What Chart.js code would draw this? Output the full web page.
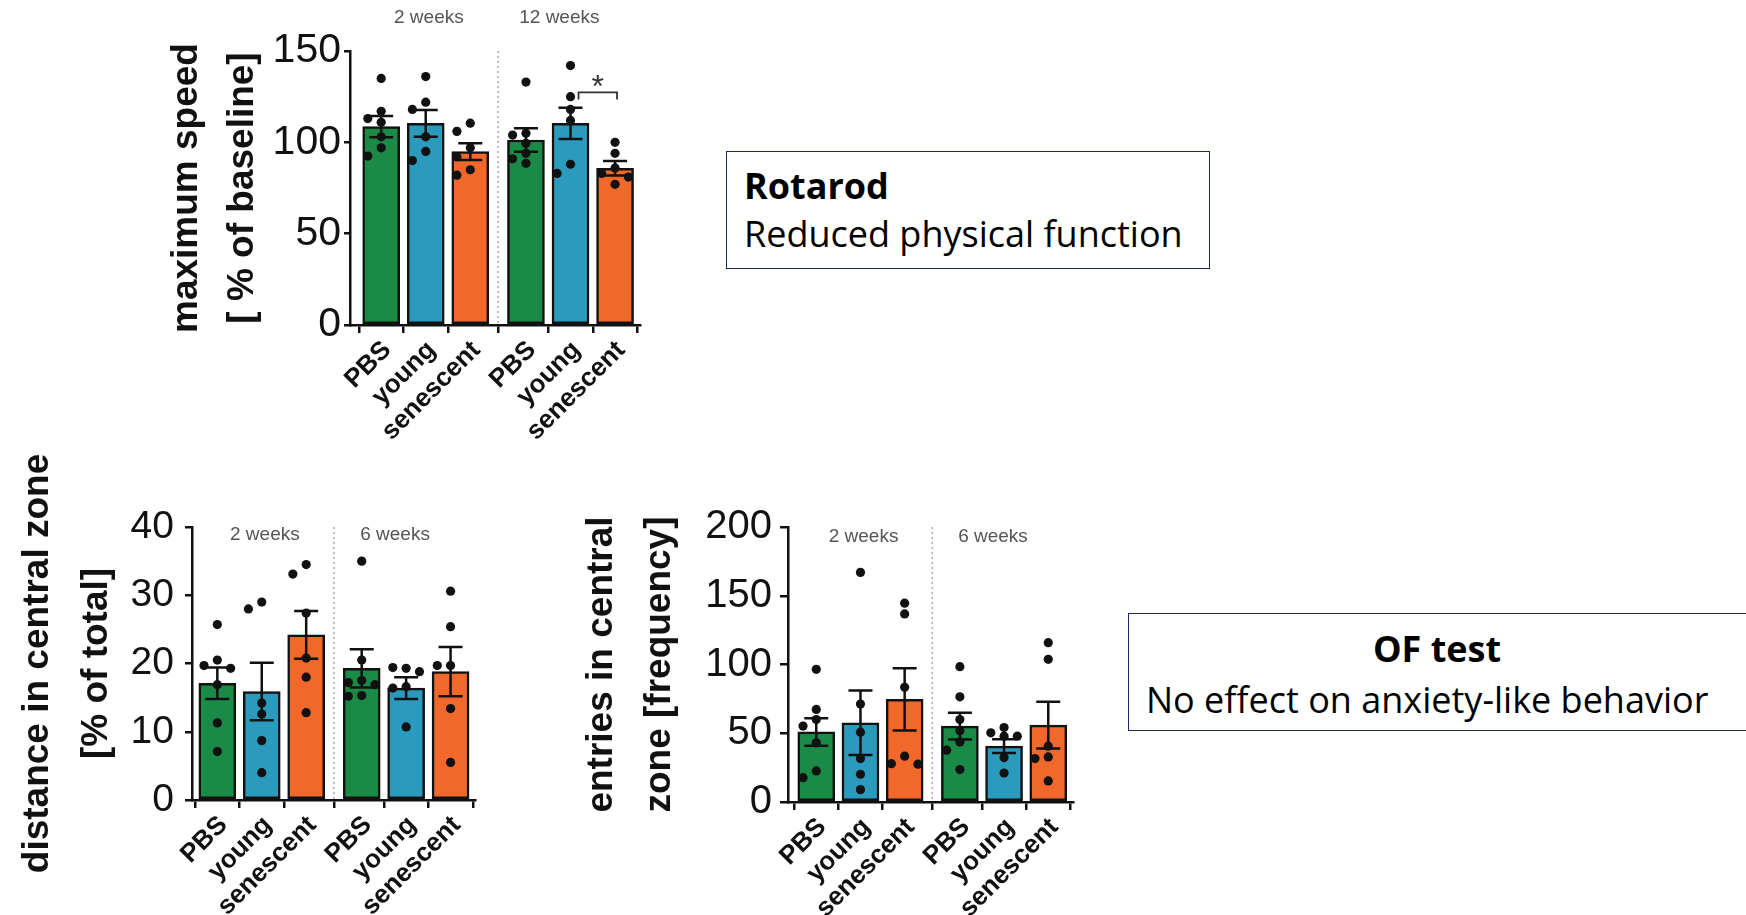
<!DOCTYPE html>
<html>
<head>
<meta charset="utf-8">
<script src="https://cdn.jsdelivr.net/npm/chart.js@4.4.0/dist/chart.umd.min.js"></script>
<style>
    body { margin: 0; width: 1746px; height: 915px; background: #fff; position: relative; overflow: hidden; }
    .panel { position: absolute; }
    .box { position: absolute; box-sizing: border-box; border: 1.5px solid #1b2a5a; font-family: 'Open Sans', sans-serif; color: #000; }
    .line { position: absolute; font-size: 36px; line-height: 36px; white-space: nowrap; }
    .bold { font-weight: bold; }
</style>
</head>
<body>

<div class="panel" style="left:140px;top:0px"><canvas id="chart_speed" width="520" height="450"></canvas></div>
<div class="panel" style="left:0px;top:430px"><canvas id="chart_distance" width="500" height="485"></canvas></div>
<div class="panel" style="left:560px;top:430px"><canvas id="chart_entries" width="530" height="485"></canvas></div>

<div class="box" style="left:726px;top:151px;width:484px;height:118px">
    <div class="line bold" style="left:17px;top:16px">Rotarod</div>
    <div class="line" style="left:17px;top:64px">Reduced physical function</div>
</div>
<div class="box" style="left:1128px;top:613px;width:622px;height:118px">
    <div class="line bold" style="left:0;top:17px;width:616px;text-align:center">OF test</div>
    <div class="line" style="left:17px;top:68px">No effect on anxiety-like behavior</div>
</div>

<script>
/***** data *****/
var groupLabels = ['PBS', 'young', 'senescent', 'PBS', 'young', 'senescent'];

// Rotarod - maximum speed [% of baseline]
var speedWeeks = ['2 weeks', '12 weeks'];
var speedMean = [108.6, 110.4, 94.9, 101.3, 110.4, 85.8];
var speedSem = [5.8, 7.3, 4.6, 6.4, 8.6, 4.0];
var speedPoints = [
    [135, 117, 113, 111, 103, 97, 92.5],
    [136, 122, 118, 103, 95, 90],
    [110.5, 106, 97, 92, 85, 82],
    [133, 105, 104, 99.5, 94, 91, 88.5],
    [142, 125, 118, 112, 88, 83],
    [100, 94, 86, 83, 81, 77]
];
var speedTicks = [0, 50, 100, 150];

// OF test - distance in central zone [% of total]
var distWeeks = ['2 weeks', '6 weeks'];
var distMean = [17.1, 15.9, 24.2, 19.3, 16.4, 18.8];
var distSem = [2.3, 4.2, 3.5, 2.8, 1.6, 3.6];
var distPoints = [
    [25.7, 20.5, 19.7, 19.3, 16.9, 11.3, 7.1],
    [29, 28, 14.2, 12.6, 8.7, 4],
    [34.5, 33.1, 27.4, 20.8, 18, 12.8],
    [35, 20.5, 17.5, 17.2, 16.9, 15.3, 15.2],
    [19.3, 19.4, 18.8, 16.6, 16.4, 10.7],
    [30.6, 25.4, 19.7, 19.7, 13.4, 5.5]
];
var distTicks = [0, 10, 20, 30, 40];

// OF test - entries in central zone [frequency]
var entryWeeks = ['2 weeks', '6 weeks'];
var entryMean = [51, 57.6, 74.6, 55.2, 40.6, 55.9];
var entrySem = [10, 23.5, 22.6, 9.7, 5, 17];
var entryPoints = [
    [96.5, 67.3, 60, 55.2, 43, 22.6, 17.7],
    [167, 71.2, 50.8, 31.6, 20.2, 9],
    [144.6, 136.8, 83.4, 33.3, 27.9, 27.5],
    [98.4, 76.5, 60, 51.8, 43.7, 37.7, 23.6],
    [54.2, 50.3, 47.9, 47.9, 32.3, 21.1],
    [115.9, 103.8, 40.6, 32.8, 31.6, 15.3]
];
var entryTicks = [0, 50, 100, 150, 200];

/***** styling *****/
var barColors = ['#1b8a46', '#2b9bbd', '#f2682a', '#1b8a46', '#2b9bbd', '#f2682a'];
var groupGap = 0.25;
var xPos = groupLabels.map(function (l, i) { return i + (i > 2 ? groupGap : 0); });
var weekShift = [0.07, -0.25];   // week captions sit a bit off the group centre
var ink = '#111';
var fontFamily = "'Liberation Sans', Arial, sans-serif";

// spread points with similar values side by side
function swarm(values, thresh) {
    var offs = [0, -0.3, 0.3, -0.15, 0.15, -0.45, 0.45];
    var placed = [];
    return values.map(function (v) {
        for (var k = 0; k < offs.length; k++) {
            var clash = placed.some(function (p) {
                return Math.abs(p.o - offs[k]) < 0.2 && Math.abs(p.v - v) < thresh;
            });
            if (!clash) {
                placed.push({ v: v, o: offs[k] });
                return offs[k];
            }
        }
        return 0;
    });
}

var errorBars = {
    id: 'errorBars',
    afterDatasetDraw: function (chart, args) {
        var ds = chart.data.datasets[args.index];
        if (!ds.sem) return;
        var ctx = chart.ctx, y = chart.scales.y;
        ctx.save();
        ctx.strokeStyle = ink;
        ctx.lineWidth = 2.5;
        args.meta.data.forEach(function (bar, i) {
            var m = ds.data[i].y, s = ds.sem[i];
            var top = y.getPixelForValue(m + s), bot = y.getPixelForValue(m - s);
            ctx.beginPath();
            ctx.moveTo(bar.x, top); ctx.lineTo(bar.x, bot);
            ctx.moveTo(bar.x - 12, top); ctx.lineTo(bar.x + 12, top);
            ctx.moveTo(bar.x - 12, bot); ctx.lineTo(bar.x + 12, bot);
            ctx.stroke();
        });
        ctx.restore();
    }
};

var decor = {
    id: 'decor',
    beforeDatasetsDraw: function (chart, args, opts) {
        var ctx = chart.ctx, x = chart.scales.x, area = chart.chartArea;
        var dx = x.getPixelForValue((xPos[2] + xPos[3]) / 2);
        ctx.save();
        ctx.strokeStyle = '#aaa';
        ctx.lineWidth = 1.5;
        ctx.setLineDash([2, 3]);
        ctx.beginPath();
        ctx.moveTo(dx, area.top);
        ctx.lineTo(dx, area.bottom);
        ctx.stroke();
        ctx.restore();
    },
    afterDraw: function (chart, args, opts) {
        var ctx = chart.ctx, x = chart.scales.x, y = chart.scales.y, area = chart.chartArea;
        ctx.save();
        // axis title, two lines rotated
        ctx.fillStyle = ink;
        ctx.font = 'bold 37px ' + fontFamily;
        ctx.textAlign = 'center';
        ctx.textBaseline = 'middle';
        opts.title.forEach(function (t, i) {
            ctx.save();
            ctx.translate(opts.titleX[i], (area.top + area.bottom) / 2);
            ctx.rotate(-Math.PI / 2);
            ctx.fillText(t, 0, 0);
            ctx.restore();
        });
        // group labels
        ctx.fillStyle = '#555';
        ctx.font = '19px ' + fontFamily;
        opts.groups.forEach(function (g, i) {
            var cx = x.getPixelForValue((xPos[i * 3] + xPos[i * 3 + 2]) / 2 + weekShift[i]);
            ctx.fillText(g, cx, area.top + opts.groupDy);
        });
        // significance bracket
        if (opts.star) {
            var s = opts.star;
            var x1 = x.getPixelForValue(xPos[s.from]) + 8, x2 = x.getPixelForValue(xPos[s.to]) + 2;
            var yb = y.getPixelForValue(s.y), yt = y.getPixelForValue(s.y - 4);
            ctx.strokeStyle = '#333';
            ctx.lineWidth = 1.8;
            ctx.beginPath();
            ctx.moveTo(x1, yt); ctx.lineTo(x1, yb); ctx.lineTo(x2, yb); ctx.lineTo(x2, yt);
            ctx.stroke();
            ctx.fillStyle = '#333';
            ctx.font = '32px ' + fontFamily;
            ctx.fillText('*', (x1 + x2) / 2, yb - 4);
        }
        ctx.restore();
    }
};

function makeChart(id, c) {
    var ctx = document.getElementById(id).getContext('2d');
    var bars = c.mean.map(function (m, i) { return { x: xPos[i], y: m }; });
    var dots = [];
    c.points.forEach(function (vals, i) {
        var offs = swarm(vals, c.max * 0.035);
        vals.forEach(function (v, k) { dots.push({ x: xPos[i] + offs[k], y: v }); });
    });
    return new Chart(ctx, {
        type: 'bar',
        data: {
            datasets: [
                {
                    type: 'scatter',
                    data: dots,
                    order: 1,
                    pointRadius: 4.6,
                    pointBackgroundColor: ink,
                    pointBorderWidth: 0
                },
                {
                    data: bars,
                    sem: c.sem,
                    order: 2,
                    backgroundColor: barColors,
                    borderColor: ink,
                    borderWidth: 2.5,
                    borderSkipped: false,
                    barThickness: 37
                }
            ]
        },
        options: {
            responsive: false,
            animation: false,
            layout: { padding: c.padding },
            plugins: {
                legend: { display: false },
                tooltip: { enabled: false },
                decor: c.decor
            },
            scales: {
                x: {
                    type: 'linear',
                    offset: false,
                    min: c.xMin,
                    max: c.xMax,
                    afterBuildTicks: function (axis) {
                        axis.ticks = xPos.map(function (v) { return { value: v }; });
                    },
                    afterFit: function (axis) { axis.height = c.xHeight; },
                    ticks: {
                        autoSkip: false,
                        maxRotation: 45,
                        minRotation: 45,
                        padding: 2,
                        labelOffset: 6,
                        color: ink,
                        font: { family: fontFamily, size: 26, weight: 'bold' },
                        callback: function (v, i) { return groupLabels[i]; }
                    },
                    grid: { drawOnChartArea: false, drawTicks: true, tickLength: 8, color: ink, lineWidth: 2.5 },
                    border: { color: ink, width: 2.5 }
                },
                y: {
                    min: 0,
                    max: c.max,
                    afterBuildTicks: function (axis) {
                        axis.ticks = c.ticks.map(function (v) { return { value: v }; });
                    },
                    afterFit: function (axis) { axis.width = c.yWidth; },
                    ticks: {
                        padding: c.tickPad,
                        color: ink,
                        font: { family: fontFamily, size: c.tickSize }
                    },
                    grid: { drawOnChartArea: false, drawTicks: true, tickLength: c.tickLen, color: ink, lineWidth: 2.5 },
                    border: { color: ink, width: 2.5 }
                }
            }
        },
        plugins: [errorBars, decor]
    });
}

makeChart('chart_speed', {
    mean: speedMean, sem: speedSem, points: speedPoints, ticks: speedTicks, max: 150,
    padding: { top: 51, right: 20, bottom: 0, left: 0 },
    yWidth: 210, xHeight: 125, xMin: -0.70, xMax: 5.81,
    tickSize: 41, tickLen: 6, tickPad: 3,
    decor: {
        title: ['maximum speed', '[ % of baseline]'], titleX: [47, 103],
        groups: speedWeeks, groupDy: -33,
        star: { from: 4, to: 5, y: 127.4 }
    }
});

makeChart('chart_distance', {
    mean: distMean, sem: distSem, points: distPoints, ticks: distTicks, max: 40,
    padding: { top: 97, right: 25, bottom: 0, left: 0 },
    yWidth: 192, xHeight: 115, xMin: -0.57, xMax: 5.80,
    tickSize: 39, tickLen: 7, tickPad: 11,
    decor: {
        title: ['distance in central zone', '[% of total]'], titleX: [38, 97],
        groups: distWeeks, groupDy: 8
    }
});

makeChart('chart_entries', {
    mean: entryMean, sem: entrySem, points: entryPoints, ticks: entryTicks, max: 200,
    padding: { top: 97, right: 17, bottom: 0, left: 0 },
    yWidth: 228, xHeight: 113, xMin: -0.64, xMax: 5.81,
    tickSize: 40, tickLen: 8, tickPad: 8,
    decor: {
        title: ['entries in central', 'zone [frequency]'], titleX: [42, 100],
        groups: entryWeeks, groupDy: 10
    }
});
</script>
</body>
</html>
